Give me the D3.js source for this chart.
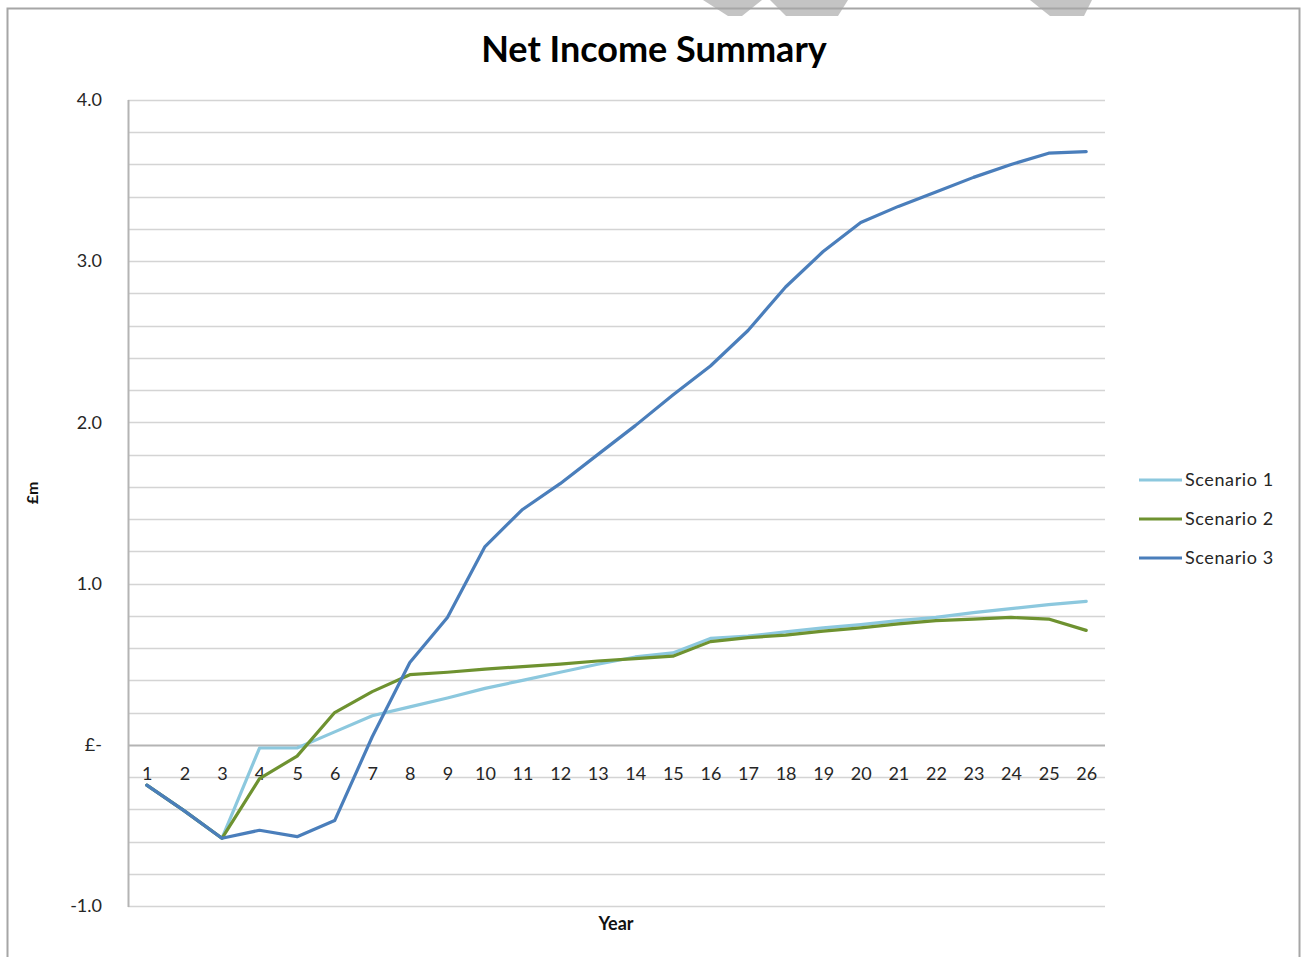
<!DOCTYPE html>
<html>
<head>
<meta charset="utf-8">
<script src="https://cdn.jsdelivr.net/npm/d3@7/dist/d3.min.js"></script>
<style>
  html, body { margin: 0; padding: 0; background: #fff; }
  svg { display: block; }
  text { font-family: Lato, "Open Sans", "Liberation Sans", sans-serif; }
</style>
</head>
<body>
<svg id="chart" width="1302" height="957"></svg>
<script>
// Year categories along the horizontal axis
const years = d3.range(1, 27).map(String);

// Net income per year, £m
const scenario1 = [-0.25, -0.41, -0.58, -0.02, -0.02, 0.08, 0.18, 0.235, 0.29, 0.35, 0.40, 0.45, 0.50,
                   0.545, 0.57, 0.66, 0.675, 0.70, 0.725, 0.745, 0.77, 0.79, 0.82, 0.845, 0.87, 0.89];
const scenario2 = [-0.25, -0.41, -0.58, -0.21, -0.07, 0.20, 0.33, 0.435, 0.45, 0.47, 0.485, 0.50, 0.52,
                   0.535, 0.55, 0.64, 0.665, 0.68, 0.705, 0.725, 0.75, 0.77, 0.78, 0.79, 0.78, 0.71];
const scenario3 = [-0.25, -0.41, -0.58, -0.53, -0.57, -0.47, 0.05, 0.51, 0.79, 1.23, 1.46, 1.62, 1.80,
                   1.98, 2.17, 2.35, 2.57, 2.84, 3.06, 3.24, 3.34, 3.43, 3.52, 3.60, 3.67, 3.68];

const seriesNames = ["Scenario 1", "Scenario 2", "Scenario 3"];
const seriesColors = ["#8cc8de", "#6e9230", "#4a7ebb"];

// Value axis: labelled every 1.0, gridlines every 0.2
const majorTicks = [-1, 0, 1, 2, 3, 4];
const majorLabels = ["-1.0", "£-", "1.0", "2.0", "3.0", "4.0"];
const gridTicks = d3.range(-1, 4.0001, 0.2).map(v => +v.toFixed(1));

const series = [scenario1, scenario2, scenario3];

const svg = d3.select("#chart");
const plot = { left: 128, right: 1105, top: 100, bottom: 906 };

// Decorative strokes along the top edge
const deco = svg.append("g").attr("fill", "#c4c4c4");
[
  [[703, 0], [762, 0], [742, 16], [728, 16]],
  [[770, 0], [848, 0], [838, 16], [786, 16]],
  [[1030, 0], [1092, 0], [1084, 16], [1050, 16]]
].forEach(p => deco.append("polygon").attr("points", p.map(d => d.join(",")).join(" ")));

// Outer frame
svg.append("rect")
  .attr("x", 7.5).attr("y", 8.5).attr("width", 1292).attr("height", 960)
  .attr("fill", "none").attr("stroke", "#a6a6a6").attr("stroke-width", 2);

const x = d3.scalePoint().domain(years).range([plot.left, plot.right]).padding(0.5);
const y = d3.scaleLinear().domain([-1, 4]).range([plot.bottom, plot.top]);

// Horizontal gridlines
svg.append("g")
  .selectAll("line")
  .data(gridTicks)
  .join("line")
  .attr("x1", plot.left).attr("x2", plot.right)
  .attr("y1", d => Math.round(y(d)) + 0.5).attr("y2", d => Math.round(y(d)) + 0.5)
  .attr("stroke", d => (d === 0 ? "#b4b4b4" : "#d4d4d4"))
  .attr("stroke-width", d => (d === 0 ? 2 : 1.5));

// Vertical value axis line
svg.append("line")
  .attr("x1", plot.left + 0.5).attr("x2", plot.left + 0.5)
  .attr("y1", plot.top).attr("y2", plot.bottom + 1)
  .attr("stroke", "#b4b4b4").attr("stroke-width", 2);

// Value axis labels
const yAxis = d3.axisLeft(y)
  .tickValues(majorTicks)
  .tickFormat(d => majorLabels[majorTicks.indexOf(d)])
  .tickSize(0)
  .tickPadding(26);
const gy = svg.append("g").attr("transform", `translate(${plot.left},0)`).call(yAxis);
gy.select(".domain").remove();
gy.selectAll("text")
  .attr("font-size", 18).attr("fill", "#262626")
  .style("font-family", "Lato, 'Open Sans', sans-serif");

// Category labels just below the zero line
const xAxis = d3.axisBottom(x).tickSize(0).tickPadding(0);
const gx = svg.append("g").attr("transform", `translate(0,${y(0) + 35})`).call(xAxis);
gx.select(".domain").remove();
gx.selectAll("text")
  .attr("font-size", 18).attr("fill", "#262626").attr("dy", "0")
  .style("font-family", "Lato, 'Open Sans', sans-serif");

// Series lines
const line = d3.line()
  .x((d, i) => x(years[i]))
  .y(d => y(d));

svg.append("g")
  .selectAll("path")
  .data(series)
  .join("path")
  .attr("d", d => line(d))
  .attr("fill", "none")
  .attr("stroke", (d, i) => seriesColors[i])
  .attr("stroke-width", 3.2)
  .attr("stroke-linejoin", "round")
  .attr("stroke-linecap", "round");

// Title
svg.append("text")
  .attr("x", 654).attr("y", 62)
  .attr("text-anchor", "middle")
  .attr("font-size", 36).attr("font-weight", "bold").attr("fill", "#000")
  .text("Net Income Summary");

// Axis titles
svg.append("text")
  .attr("x", 616).attr("y", 930)
  .attr("text-anchor", "middle")
  .attr("font-size", 18).attr("font-weight", "bold").attr("fill", "#111")
  .text("Year");

svg.append("text")
  .attr("transform", "translate(38,493) rotate(-90)")
  .attr("text-anchor", "middle")
  .attr("font-size", 16).attr("font-weight", "bold").attr("fill", "#111")
  .text("£m");

// Legend
const legend = svg.append("g");
const legendY = [480, 519, 558];
seriesNames.forEach((name, i) => {
  legend.append("line")
    .attr("x1", 1139).attr("x2", 1182)
    .attr("y1", legendY[i]).attr("y2", legendY[i])
    .attr("stroke", seriesColors[i]).attr("stroke-width", 3.2);
  legend.append("text")
    .attr("x", 1185).attr("y", legendY[i] + 6)
    .attr("font-size", 18).attr("letter-spacing", 0.6).attr("fill", "#262626")
    .text(name);
});
</script>
</body>
</html>
